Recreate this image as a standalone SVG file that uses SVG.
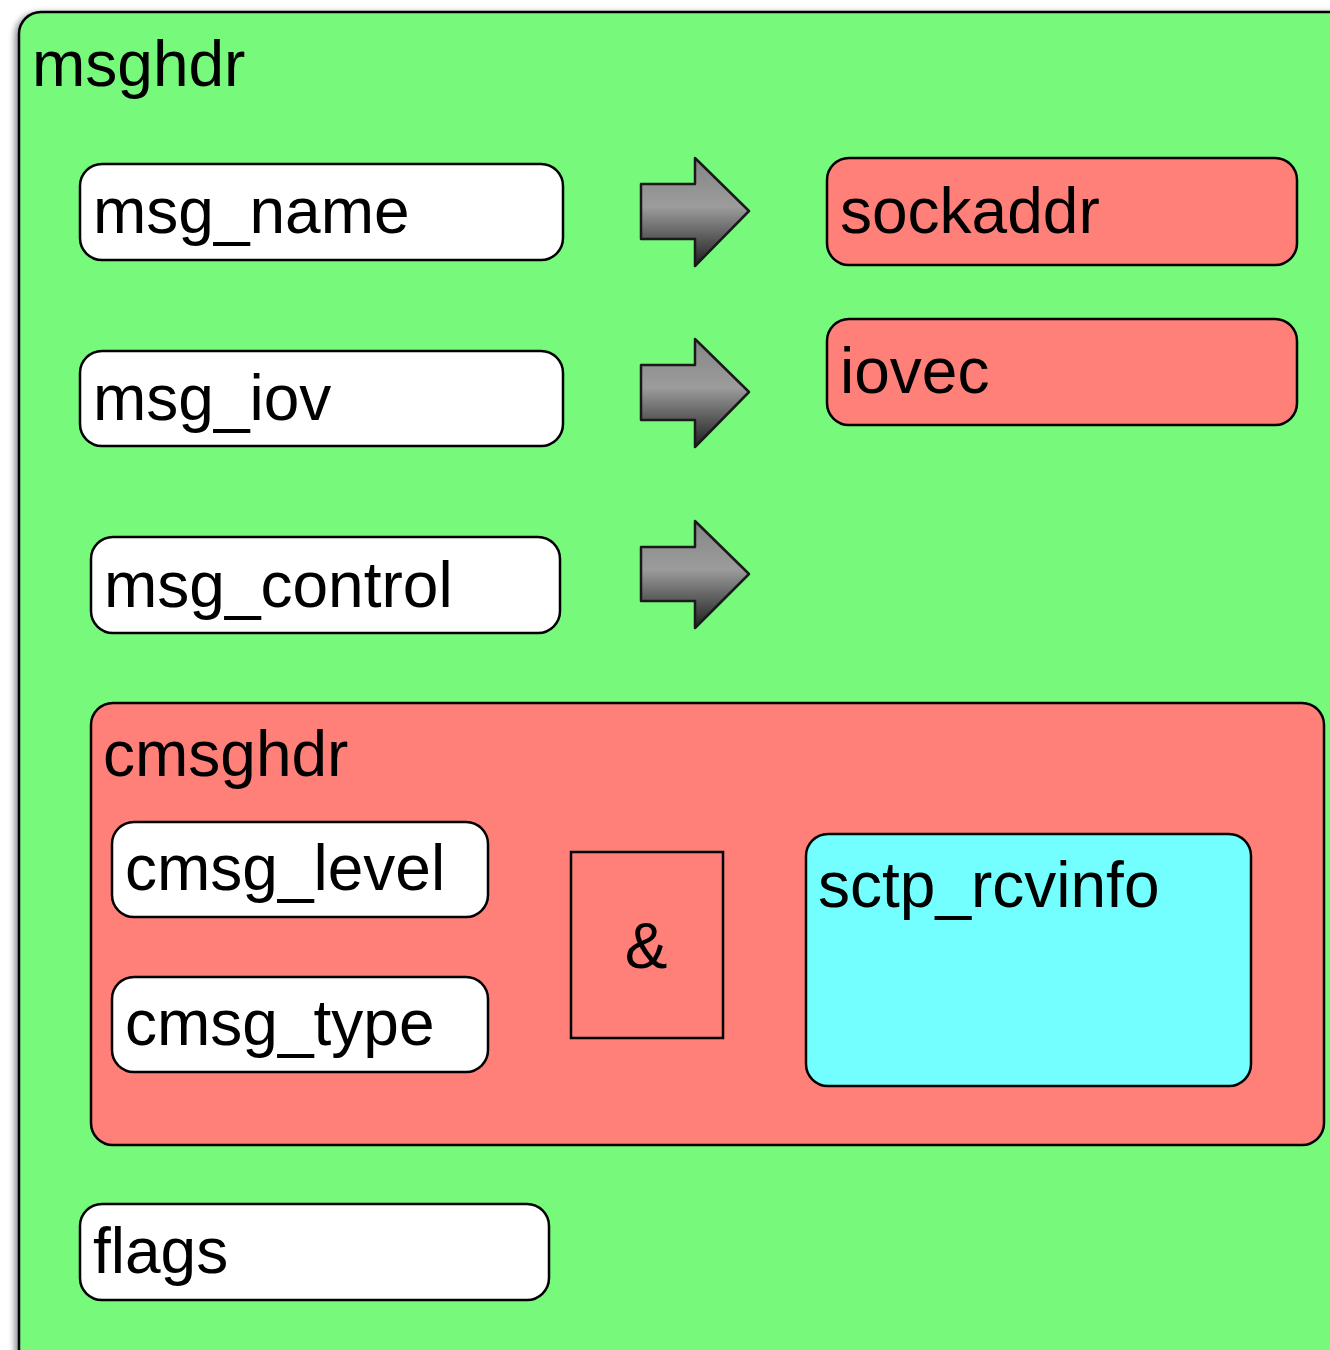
<svg xmlns="http://www.w3.org/2000/svg" width="1330" height="1350" viewBox="0 0 1330 1350">
  <defs>
    <linearGradient id="arrowFill" x1="0" y1="0" x2="0" y2="1">
      <stop offset="0" stop-color="#858585"/>
      <stop offset="0.45" stop-color="#9c9c9c"/>
      <stop offset="1" stop-color="#1e1e1e"/>
    </linearGradient>
    <filter id="shadow" x="-5%" y="-5%" width="110%" height="110%">
      <feDropShadow dx="-3" dy="2" stdDeviation="3" flood-color="#000" flood-opacity="0.45"/>
    </filter>
    <style>
      .box { stroke: #000; stroke-width: 2.5; }
      .field { fill: #ffffff; }
      .red { fill: #ff7f79; }
      .cyan { fill: #73ffff; }
      .label { font-family: "Liberation Sans", Arial, sans-serif; font-size: 64px; fill: #000; }
      .arrow { fill: url(#arrowFill); stroke: #1a1a1a; stroke-width: 2.5; stroke-linejoin: round; }
    </style>
  </defs>

  <rect width="1330" height="1350" fill="#ffffff"/>

  <!-- outer msghdr container -->
  <g id="msghdr">
    <rect x="19" y="12" width="1340" height="1370" rx="22" fill="#77f97b" class="box" filter="url(#shadow)"/>
    <text x="32" y="86" class="label">msghdr</text>
  </g>

  <g id="msg_name">
    <rect x="80" y="164" width="483" height="96" rx="22" class="box field"/>
    <text x="93" y="233" class="label">msg_name</text>
  </g>

  <g id="msg_iov">
    <rect x="80" y="351" width="483" height="95" rx="22" class="box field"/>
    <text x="93" y="420" class="label">msg_iov</text>
  </g>

  <g id="msg_control">
    <rect x="91" y="537" width="469" height="96" rx="22" class="box field"/>
    <text x="104" y="607" class="label">msg_control</text>
  </g>

  <g id="sockaddr">
    <rect x="827" y="158" width="470" height="107" rx="22" class="box red"/>
    <text x="840" y="233" class="label">sockaddr</text>
  </g>

  <g id="iovec">
    <rect x="827" y="319" width="470" height="106" rx="22" class="box red"/>
    <text x="840" y="393" class="label">iovec</text>
  </g>

  <!-- pointer arrows -->
  <g id="connectors">
    <path class="arrow" d="M641,184 H695 V158 L749,211 L695,266 V239 H641 Z"/>
    <path class="arrow" d="M641,365 H695 V339 L749,392 L695,447 V420 H641 Z"/>
    <path class="arrow" d="M641,547 H695 V521 L749,574 L695,628 V601 H641 Z"/>
  </g>

  <g id="cmsghdr">
    <rect x="91" y="703" width="1233" height="442" rx="22" class="box red"/>
    <text x="103" y="776" class="label">cmsghdr</text>
  </g>

  <g id="cmsg_level">
    <rect x="112" y="822" width="376" height="95" rx="22" class="box field"/>
    <text x="125" y="890" class="label">cmsg_level</text>
  </g>

  <g id="cmsg_type">
    <rect x="112" y="977" width="376" height="95" rx="22" class="box field"/>
    <text x="125" y="1045" class="label">cmsg_type</text>
  </g>

  <g id="amp">
    <rect x="571" y="852" width="152" height="186" class="box red"/>
    <text x="646" y="968" class="label" text-anchor="middle">&amp;</text>
  </g>

  <g id="sctp_rcvinfo">
    <rect x="806" y="834" width="445" height="252" rx="22" class="box cyan"/>
    <text x="818" y="907" class="label">sctp_rcvinfo</text>
  </g>

  <g id="flags">
    <rect x="80" y="1204" width="469" height="96" rx="22" class="box field"/>
    <text x="93" y="1273" class="label">flags</text>
  </g>
</svg>
